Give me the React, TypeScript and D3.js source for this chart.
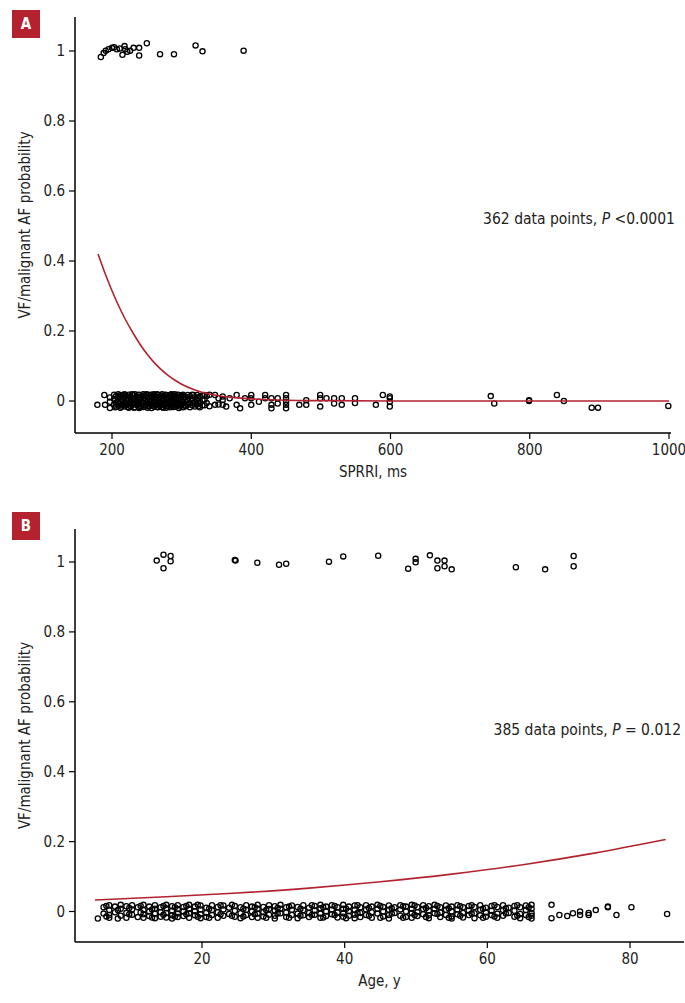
import React from "react";
import * as d3 from "d3";

// tick values
const probTicks = [0, 0.2, 0.4, 0.6, 0.8, 1];
const sprriTicks = [200, 400, 600, 800, 1000];
const ageTicks = [20, 40, 60, 80];

// panel A: SPRRI (ms) vs outcome, jittered around 1 and 0
const sprriOne: [number, number][] = [
  [184, 0.983], [188, 0.994], [191, 1.001], [195, 1.005], [200, 1.009], [203, 1.011],
  [207, 1.005], [211, 1.007], [215, 0.989], [218, 1.014], [219, 1.005], [222, 0.998],
  [226, 1.001], [231, 1.009], [239, 1.009], [239, 0.987], [250, 1.022], [269, 0.991],
  [289, 0.991], [320, 1.016], [330, 0.999], [389, 1.001],
];
// columns: x value, then the jittered y values stacked at it
const sprriZero: [number, number[]][] = [
  [179, [-0.011]], [189, [0.017]], [190, [-0.011]], [197, [0.01, -0.002, -0.02]],
  [203, [0.018, 0.006, -0.01]], [206, [0.014, -0.004, -0.016]], [209, [0.019, 0.008, -0.002, -0.013]],
  [212, [0.012, -0.008, -0.019]], [215, [0.017, 0.004, -0.011]], [218, [0.019, 0.009, -0.004, -0.016]],
  [221, [0.013, 0.001, -0.012]], [224, [0.018, 0.006, -0.008, -0.019]], [227, [0.011, -0.003, -0.015]],
  [230, [0.017, 0.005, -0.01]], [233, [0.019, 0.008, -0.005, -0.018]], [236, [0.013, 0.0, -0.012]],
  [239, [0.018, 0.006, -0.008, -0.02]], [242, [0.012, -0.002, -0.015]], [245, [0.019, 0.007, -0.006, -0.017]],
  [248, [0.014, 0.002, -0.011]], [251, [0.018, 0.006, -0.008, -0.019]], [254, [0.011, -0.003, -0.014]],
  [257, [0.017, 0.005, -0.009, -0.02]], [260, [0.019, 0.009, -0.004, -0.016]], [263, [0.013, 0.0, -0.012]],
  [266, [0.018, 0.006, -0.007, -0.018]], [269, [0.012, -0.002, -0.014]], [272, [0.019, 0.008, -0.005, -0.017]],
  [275, [0.014, 0.002, -0.011]], [278, [0.017, 0.005, -0.008, -0.019]], [281, [0.011, -0.003, -0.015]],
  [284, [0.018, 0.007, -0.006, -0.018]], [287, [0.013, 0.0, -0.012]], [290, [0.019, 0.008, -0.004, -0.016]],
  [293, [0.012, -0.002, -0.014]], [296, [0.017, 0.005, -0.009, -0.02]], [299, [0.014, 0.001, -0.012]],
  [302, [0.018, 0.006, -0.007, -0.018]], [306, [0.011, -0.003, -0.015]], [309, [0.017, 0.004, -0.01]],
  [312, [0.013, -0.006, -0.018]], [315, [0.018, 0.002, -0.012]], [319, [0.011, -0.004, -0.016]],
  [322, [0.017, 0.004, -0.01]], [326, [0.012, -0.006, -0.018]], [330, [0.016, 0.002, -0.012]],
  [336, [0.014, -0.006]], [340, [0.018, -0.015]], [348, [0.017, -0.011]], [353, [0.008, -0.01]],
  [359, [0.013, 0.003, -0.011]], [364, [-0.016]], [369, [0.008]], [379, [0.017, -0.011]],
  [384, [-0.021]], [391, [0.008]], [400, [0.017, 0.008, -0.011]], [411, [-0.002]], [420, [0.017, 0.008]],
  [429, [0.008, -0.011, -0.021]], [438, [0.008, -0.007]], [450, [0.017, 0.008, -0.002, -0.011, -0.021]],
  [469, [-0.011]], [479, [0.002, -0.011]], [499, [0.017, 0.008, -0.016]], [508, [0.008]],
  [519, [0.008, -0.007]], [530, [0.008, -0.011]], [549, [0.008, -0.006]], [579, [-0.011]], [589, [0.017]],
  [599, [0.013, 0.008, -0.002, -0.016]], [744, [0.014]], [749, [-0.007]], [799, [0.0, 0.002]],
  [839, [0.017]], [849, [0]], [889, [-0.019]], [898, [-0.019]], [999, [-0.014]],
  // second layer in the crowded 200-330 ms band
  [204.5, [0.002, -0.018]], [210.5, [0.015, -0.007]], [213.5, [0.006, -0.016]], [219.5, [0.016, -0.008]],
  [222.5, [0.007, -0.017]], [228.5, [0.019, 0.002]], [231.5, [-0.006, -0.019]], [237.5, [0.017, -0.004]],
  [240.5, [0.009, -0.018]], [246.5, [0.015, -0.012]], [249.5, [0.019, -0.004]], [252.5, [0.011, -0.015]],
  [255.5, [0.018, 0.0]], [258.5, [0.012, -0.013]], [261.5, [0.016, -0.008]], [264.5, [0.019, -0.017]],
  [267.5, [0.009, -0.006]], [270.5, [0.015, -0.011]], [273.5, [0.002, -0.019]], [276.5, [0.018, -0.006]],
  [279.5, [0.011, -0.014]], [282.5, [0.016, -0.01]], [285.5, [0.019, -0.003]], [288.5, [0.009, -0.017]],
  [291.5, [0.015, -0.009]], [294.5, [0.018, -0.005]], [297.5, [0.011, -0.016]], [300.5, [0.016, -0.003]],
  [304, [0.013, -0.012]], [317, [0.017, -0.007]], [324, [0.009, -0.015]], [333, [0.017, 0.004, -0.012]],
];
// fitted probability
const sprriCurveX = [180, 190, 200, 210, 220, 230, 240, 250, 260, 270, 280, 290, 300, 320, 340, 360, 380, 400, 450, 500, 600, 700, 800, 1000];
const sprriCurveP = [0.42, 0.365, 0.315, 0.27, 0.23, 0.195, 0.163, 0.135, 0.111, 0.091, 0.074, 0.06, 0.048, 0.031, 0.02, 0.013, 0.009, 0.006, 0.002, 0.001, 0.0002, 0, 0, 0];

// panel B: age (y)
const ageOne: [number, number][] = [
  [13.65, 1.004], [14.6, 1.021], [15.6, 1.017], [15.6, 1.002], [14.6, 0.982], [24.6, 1.006],
  [24.7, 1.004], [27.75, 0.998], [30.8, 0.992], [31.8, 0.995], [37.8, 1.001], [39.8, 1.016],
  [44.7, 1.018], [48.9, 0.981], [49.95, 1.009], [49.95, 0.999], [51.95, 1.019], [53.0, 1.004],
  [54.0, 1.004], [53.0, 0.982], [54.0, 0.988], [55.0, 0.979], [64.0, 0.985], [68.1, 0.979],
  [72.1, 1.017], [72.1, 0.988],
];
const ageZero: [number, number[]][] = [
  [5.4, [-0.02]], [6.2, [0.012, -0.006]], [7.0, [0.018, 0.004, -0.01, -0.018]], [7.8, [0.014, -0.002]],
  [8.6, [0.019, 0.008, -0.012]], [9.4, [0.015, -0.004, -0.018]], [10.2, [0.018, 0.006, -0.009]],
  [11.0, [0.012, -0.016]], [11.8, [0.019, 0.004, -0.008, -0.018]], [12.6, [0.014, 0.0, -0.013]],
  [13.4, [0.018, 0.008, -0.006, -0.019]], [14.2, [0.012, -0.002, -0.015]], [15.0, [0.019, 0.009, -0.004, -0.017]],
  [15.8, [0.015, 0.002, -0.011, -0.02]], [16.6, [0.018, 0.007, -0.006, -0.016]], [17.4, [0.013, 0.0, -0.013]],
  [18.2, [0.019, 0.008, -0.005, -0.018]], [19.0, [0.014, 0.001, -0.011]], [19.8, [0.017, 0.006, -0.008, -0.019]],
  [20.6, [0.011, -0.004, -0.016]], [21.4, [0.018, 0.004, -0.01]], [22.2, [0.013, -0.002, -0.018]],
  [23.0, [0.017, 0.006, -0.012]], [23.8, [0.011, -0.007]], [24.6, [0.016, 0.002, -0.015]],
  [25.4, [0.012, -0.005, -0.019]], [26.2, [0.018, 0.005, -0.01]], [27.0, [0.014, 0.0, -0.016]],
  [27.8, [0.019, 0.008, -0.006, -0.018]], [28.6, [0.013, -0.002, -0.014]], [29.4, [0.018, 0.007, -0.009]],
  [30.2, [0.015, 0.003, -0.012, -0.02]], [31.0, [0.019, 0.008, -0.005]], [31.8, [0.012, -0.003, -0.016]],
  [32.6, [0.017, 0.005, -0.01]], [33.4, [0.013, -0.006, -0.019]], [34.2, [0.018, 0.004, -0.011]],
  [35.0, [0.011, -0.004, -0.016]], [35.8, [0.016, 0.003, -0.009]], [36.6, [0.019, 0.009, -0.006, -0.018]],
  [37.4, [0.014, 0.0, -0.013]], [38.2, [0.018, 0.006, -0.008]], [39.0, [0.012, -0.003, -0.017]],
  [39.8, [0.019, 0.008, -0.005, -0.015]], [40.6, [0.014, 0.001, -0.012]], [41.4, [0.017, 0.005, -0.009, -0.019]],
  [42.2, [0.012, -0.004, -0.016]], [43.0, [0.018, 0.006, -0.01]], [43.8, [0.014, -0.002, -0.018]],
  [44.6, [0.019, 0.008, -0.006]], [45.4, [0.013, 0.0, -0.014]], [46.2, [0.017, 0.005, -0.01, -0.02]],
  [47.0, [0.012, -0.004]], [47.8, [0.018, 0.006, -0.012]], [48.6, [0.014, 0.0, -0.016]],
  [49.4, [0.019, 0.008, -0.004, -0.018]], [50.2, [0.013, -0.002, -0.013]], [51.0, [0.018, 0.007, -0.008]],
  [51.8, [0.015, 0.003, -0.011, -0.019]], [52.6, [0.019, 0.008, -0.005]], [53.4, [0.012, -0.003, -0.016]],
  [54.2, [0.017, 0.005, -0.01]], [55.0, [0.014, 0.0, -0.014, -0.02]], [55.8, [0.018, 0.006, -0.008]],
  [56.6, [0.012, -0.004, -0.017]], [57.4, [0.016, 0.003, -0.01]], [58.2, [0.013, -0.005, -0.019]],
  [59.0, [0.018, 0.005, -0.011]], [59.8, [0.011, -0.003, -0.015]], [60.6, [0.016, 0.002, -0.01]],
  [61.4, [0.013, -0.006, -0.018]], [62.2, [0.018, 0.004, -0.012]], [63.0, [0.011, -0.004]],
  [63.8, [0.016, 0.002, -0.015]], [64.6, [0.012, -0.007, -0.019]], [65.4, [0.017, 0.004, -0.01]],
  [66.2, [0.019, 0.008, -0.004, -0.012, -0.02]], [69.0, [0.019, -0.019]], [70.1, [-0.01]], [71.2, [-0.013]],
  [72.0, [-0.005]], [73.0, [0.0, -0.01]], [74.2, [-0.004, -0.01]], [75.2, [0.004]], [76.9, [0.014, 0.012]],
  [78.1, [-0.01]], [80.2, [0.012]], [85.2, [-0.007]],
  // second layer in the crowded 5-66 y band
  [6.6, [0.016, -0.014]], [8.2, [0.004, -0.02]], [9.8, [0.01, -0.008]], [11.4, [0.016, -0.003]],
  [13.0, [0.006, -0.017]], [14.6, [0.016, -0.009]], [16.2, [0.012, -0.014]], [17.8, [0.016, -0.008]],
  [19.4, [0.019, -0.015]], [21.0, [0.008, -0.018]], [22.6, [0.018, -0.008]], [24.2, [0.019, -0.012]],
  [25.8, [0.008, -0.014]], [27.4, [0.012, -0.008]], [29.0, [0.004, -0.018]], [30.6, [0.01, -0.006]],
  [32.2, [0.014, -0.018]], [33.8, [0.008, -0.012]], [35.4, [0.018, -0.01]], [37.0, [0.012, -0.017]],
  [38.6, [0.016, -0.01]], [40.2, [0.008, -0.019]], [41.8, [0.018, -0.004]], [43.4, [0.01, -0.012]],
  [45.0, [0.016, -0.018]], [46.6, [0.009, -0.006]], [48.2, [0.015, -0.018]], [49.8, [0.017, -0.01]],
  [51.4, [0.01, -0.016]], [53.0, [0.016, -0.007]], [54.6, [0.009, -0.018]], [56.2, [0.015, -0.012]],
  [57.8, [0.018, -0.006]], [59.4, [0.008, -0.018]], [61.0, [0.018, -0.014]], [62.6, [0.009, -0.006]],
  [64.2, [0.018, -0.012]], [65.8, [0.012, -0.016]],
];
const ageCurveX = [5, 15, 25, 35, 45, 55, 65, 75, 85];
const ageCurveP = [0.033, 0.042, 0.053, 0.067, 0.085, 0.107, 0.134, 0.167, 0.206];

const FONT = "'DejaVu Sans Condensed', 'Liberation Sans Narrow', 'Roboto', sans-serif";
const RED = "#b3222e";

type PanelProps = {
  letter: string;
  badgeY: number;
  x: d3.ScaleLinear<number, number>;
  y: d3.ScaleLinear<number, number>;
  xTicks: number[];
  yTop: number;
  xAxisY: number;
  xRight: number;
  xTitle: string;
  ones: [number, number][];
  zeros: [number, number[]][];
  curveX: number[];
  curveP: number[];
  note: string;
  pText: string;
  noteX: number;
  noteY: number;
};

const Panel = (p: PanelProps) => {
  const axisX = 75;
  const pts: [number, number][] = [...p.ones];
  p.zeros.forEach(([v, ys]) => ys.forEach((j) => pts.push([v, j])));
  const line = d3
    .line<number>()
    .x((d) => p.x(d))
    .y((d, i) => p.y(p.curveP[i]))
    .curve(d3.curveMonotoneX);
  const midY = (p.yTop + p.xAxisY) / 2;
  return (
    <g>
      <rect x={12} y={p.badgeY} width={28} height={28} fill={RED} />
      <text x={26} y={p.badgeY + 19} textAnchor="middle" fill="#fff" fontSize={15} fontWeight="bold" fontFamily={FONT}>
        {p.letter}
      </text>
      {/* y axis */}
      <line x1={axisX} x2={axisX} y1={p.yTop} y2={p.xAxisY} stroke="#000" strokeWidth={1.5} />
      {probTicks.map((t) => (
        <g key={t} transform={`translate(0,${p.y(t)})`}>
          <line x1={axisX - 6} x2={axisX} stroke="#000" strokeWidth={1.2} />
          <text x={axisX - 10} dy="0.35em" textAnchor="end" fontSize={15} fontFamily={FONT} fill="#222">
            {t}
          </text>
        </g>
      ))}
      <text
        transform={`translate(25,${midY}) rotate(-90)`}
        textAnchor="middle"
        dy="0.35em"
        fontSize={15}
        fontFamily={FONT}
        fill="#222"
      >
        VF/malignant AF probability
      </text>
      {/* x axis */}
      <line x1={axisX} x2={p.xRight} y1={p.xAxisY} y2={p.xAxisY} stroke="#000" strokeWidth={1.5} />
      {p.xTicks.map((t) => (
        <g key={t} transform={`translate(${p.x(t)},${p.xAxisY})`}>
          <line y1={0} y2={6} stroke="#000" strokeWidth={1.2} />
          <text y={22} textAnchor="middle" fontSize={15} fontFamily={FONT} fill="#222">
            {t}
          </text>
        </g>
      ))}
      <text x={(axisX + p.xRight) / 2} y={p.xAxisY + 44} textAnchor="middle" fontSize={15} fontFamily={FONT} fill="#222">
        {p.xTitle}
      </text>
      {/* points */}
      {pts.map(([v, j], i) => (
        <circle key={i} cx={p.x(v)} cy={p.y(j)} r={2.6} fill="none" stroke="#000" strokeWidth={1.3} />
      ))}
      <path d={line(p.curveX) || ""} fill="none" stroke={RED} strokeWidth={1.6} />
      <text x={p.noteX} y={p.noteY} textAnchor="end" fontSize={15.5} fontFamily={FONT} fill="#222">
        {p.note}
        <tspan fontStyle="italic">P</tspan>
        {p.pText}
      </text>
    </g>
  );
};

export default function App() {
  const xA = d3.scaleLinear().domain([200, 1000]).range([112, 669]);
  const yA = d3.scaleLinear().domain([0, 1]).range([401, 51]);
  const xB = d3.scaleLinear().domain([20, 80]).range([202, 630]);
  const yB = d3.scaleLinear().domain([0, 1]).range([911.5, 562]);
  return (
    <svg width={685} height={1003} style={{ position: "absolute", left: 0, top: 0, background: "#fff" }}>
      <Panel
        letter="A"
        badgeY={10}
        x={xA}
        y={yA}
        xTicks={sprriTicks}
        yTop={17}
        xAxisY={433}
        xRight={671}
        xTitle="SPRRI, ms"
        ones={sprriOne}
        zeros={sprriZero}
        curveX={sprriCurveX}
        curveP={sprriCurveP}
        note="362 data points, "
        pText=" <0.0001"
        noteX={675}
        noteY={224}
      />
      <Panel
        letter="B"
        badgeY={512}
        x={xB}
        y={yB}
        xTicks={ageTicks}
        yTop={529}
        xAxisY={942}
        xRight={684}
        xTitle="Age, y"
        ones={ageOne}
        zeros={ageZero}
        curveX={ageCurveX}
        curveP={ageCurveP}
        note="385 data points, "
        pText=" = 0.012"
        noteX={681}
        noteY={735}
      />
    </svg>
  );
}
